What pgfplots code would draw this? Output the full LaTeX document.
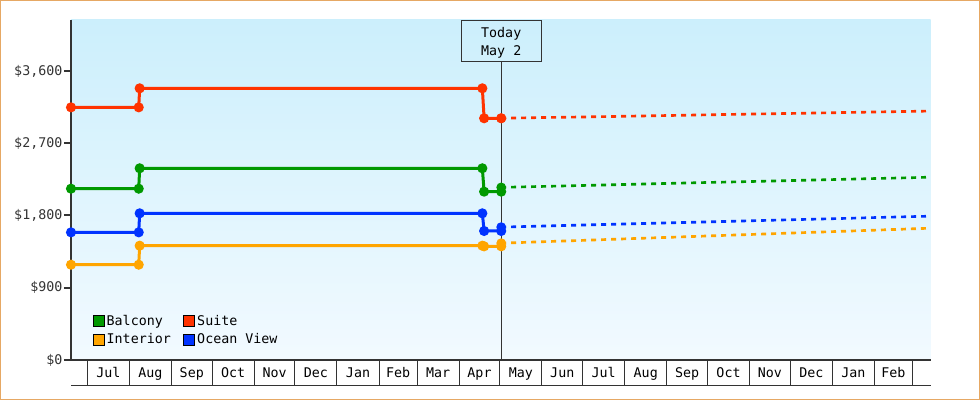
\documentclass[border=0pt]{standalone}
\usepackage{fontspec}
\setmainfont{DejaVu Sans Mono}
\usepackage{pgfplots}
\pgfplotsset{compat=1.18}

\definecolor{balcony}{HTML}{009900}
\definecolor{suite}{HTML}{FF3300}
\definecolor{interior}{HTML}{FFA500}
\definecolor{oceanview}{HTML}{0033FF}
\definecolor{axiscol}{HTML}{333333}
\definecolor{bgtop}{HTML}{CCEFFC}
\definecolor{bgbot}{HTML}{F2FAFF}
\definecolor{framecol}{HTML}{E6A864}

\begin{document}
\begin{tikzpicture}[font=\fontsize{10}{12}\selectfont]
% outer frame, 980x400 px at 0.75pt per px
\draw[framecol, line width=0.75pt] (-52.875pt,-29.625pt) rectangle (681.375pt,269.625pt);
\begin{axis}[
  name=ax,
  at={(0pt,0pt)}, anchor=south west,
  scale only axis, width=644.8pt, height=255pt,
  xmin=-12, xmax=621.5, ymin=0, ymax=4235,
  clip=false,
  axis x line*=bottom, axis y line*=left,
  axis line style={axiscol, line width=1.5pt},
  axis background/.style={top color=bgtop, bottom color=bgbot},
  tick align=outside,
  major tick length=5.25pt, minor tick length=18.75pt,
  ytick={0,900,1800,2700,3600},
  yticklabels={{\$0},{\$900},{\$1,800},{\$2,700},{\$3,600}},
  ytick style={axiscol, line width=1.5pt},
  yticklabel style={text=axiscol, inner sep=1pt},
  xtick={15.5,46.5,77,107.5,138,168.5,199.5,229,258.5,289,319.5,350,380.5,411.5,442,472.5,503,533.5,564.5,594},
  xticklabels={Jul,Aug,Sep,Oct,Nov,Dec,Jan,Feb,Mar,Apr,May,Jun,Jul,Aug,Sep,Oct,Nov,Dec,Jan,Feb},
  major x tick style={draw=none},
  minor xtick={0,31,62,92,123,153,184,215,243,274,304,335,365,396,427,457,488,518,549,580,608},
  minor x tick style={axiscol, line width=0.75pt},
  xticklabel style={text=black, anchor=base, yshift=-7.75pt},
  legend columns=2,
  legend cell align=left,
  legend image code/.code={\fill[#1] (0pt,-4.125pt) rectangle (8.25pt,4.125pt);},
  legend style={draw=none, fill=none, at={(0.025,0.137)}, anchor=north west,
    inner sep=0pt, row sep=2.5pt, nodes={inner xsep=1.8pt, inner ysep=1pt},
    /tikz/every even column/.append style={column sep=7.5pt}},
]
% today marker
\node[draw=axiscol, line width=0.75pt, anchor=north, minimum width=60pt,
  minimum height=30.5pt, inner sep=0pt] (today) at (axis cs:305,4235) {};
\node[align=center, inner sep=0pt, font=\fontsize{10}{13.5}\selectfont]
  at ([yshift=-1.5pt]today.center) {Today\\May 2};
\draw[axiscol, line width=0.75pt] (today.south) -- (axis cs:305,0);

% past prices
\addplot[balcony, line width=2.25pt, mark=*, mark size=2.6pt, forget plot] coordinates {
(-12,2134) (37.9,2134) (38.6,2388) (291.1,2388) (292.4,2097) (305,2097)};
\addplot[suite, line width=2.25pt, mark=*, mark size=2.6pt, forget plot] coordinates {
(-12,3147) (37.9,3147) (38.6,3384) (291.1,3384) (292.4,3011) (305,3011)};
\addplot[interior, line width=2.25pt, mark=*, mark size=2.6pt, forget plot] coordinates {
(-12,1187) (37.9,1187) (38.6,1424) (291.1,1424) (292.4,1416) (305,1416)};
\addplot[oceanview, line width=2.25pt, mark=*, mark size=2.6pt, forget plot] coordinates {
(-12,1590) (37.9,1590) (38.6,1827) (291.1,1827) (292.4,1607) (305,1607)};

% forecast
\addplot[balcony, line width=2pt, dash pattern=on 3.75pt off 3.75pt, mark=*, mark size=2.6pt,
  mark indices={1}, mark options={solid}, forget plot] coordinates {
(305,2150) (335,2162) (365,2174) (396,2186) (427,2199) (457,2211) (488,2223)
(518,2235) (549,2247) (580,2260) (608,2271) (618,2276)};
\addplot[suite, line width=2pt, dash pattern=on 3.75pt off 3.75pt, mark=*, mark size=2.6pt,
  mark indices={1}, mark options={solid}, forget plot] coordinates {
(305,3011) (335,3020) (365,3027) (396,3036) (427,3045) (457,3054) (488,3063)
(518,3071) (549,3080) (580,3089) (608,3097) (618,3100)};
\addplot[interior, line width=2pt, dash pattern=on 3.75pt off 3.75pt, mark=*, mark size=2.6pt,
  mark indices={1}, mark options={solid}, forget plot] coordinates {
(305,1455) (335,1473) (365,1490) (396,1509) (427,1527) (457,1545) (488,1563)
(518,1581) (549,1599) (580,1617) (608,1634) (618,1640)};
\addplot[oceanview, line width=2pt, dash pattern=on 3.75pt off 3.75pt, mark=*, mark size=2.6pt,
  mark indices={1}, mark options={solid}, forget plot] coordinates {
(305,1655) (335,1668) (365,1681) (396,1694) (427,1708) (457,1720) (488,1734)
(518,1747) (549,1760) (580,1774) (608,1786) (618,1790)};

\addlegendimage{fill=balcony}\addlegendentry{Balcony}
\addlegendimage{fill=suite}\addlegendentry{Suite}
\addlegendimage{fill=interior}\addlegendentry{Interior}
\addlegendimage{fill=oceanview}\addlegendentry{Ocean View}
\end{axis}
\draw[axiscol, line width=0.75pt] ([yshift=-18.75pt]ax.south west) -- ([yshift=-18.75pt]ax.south east);
\end{tikzpicture}
\end{document}
